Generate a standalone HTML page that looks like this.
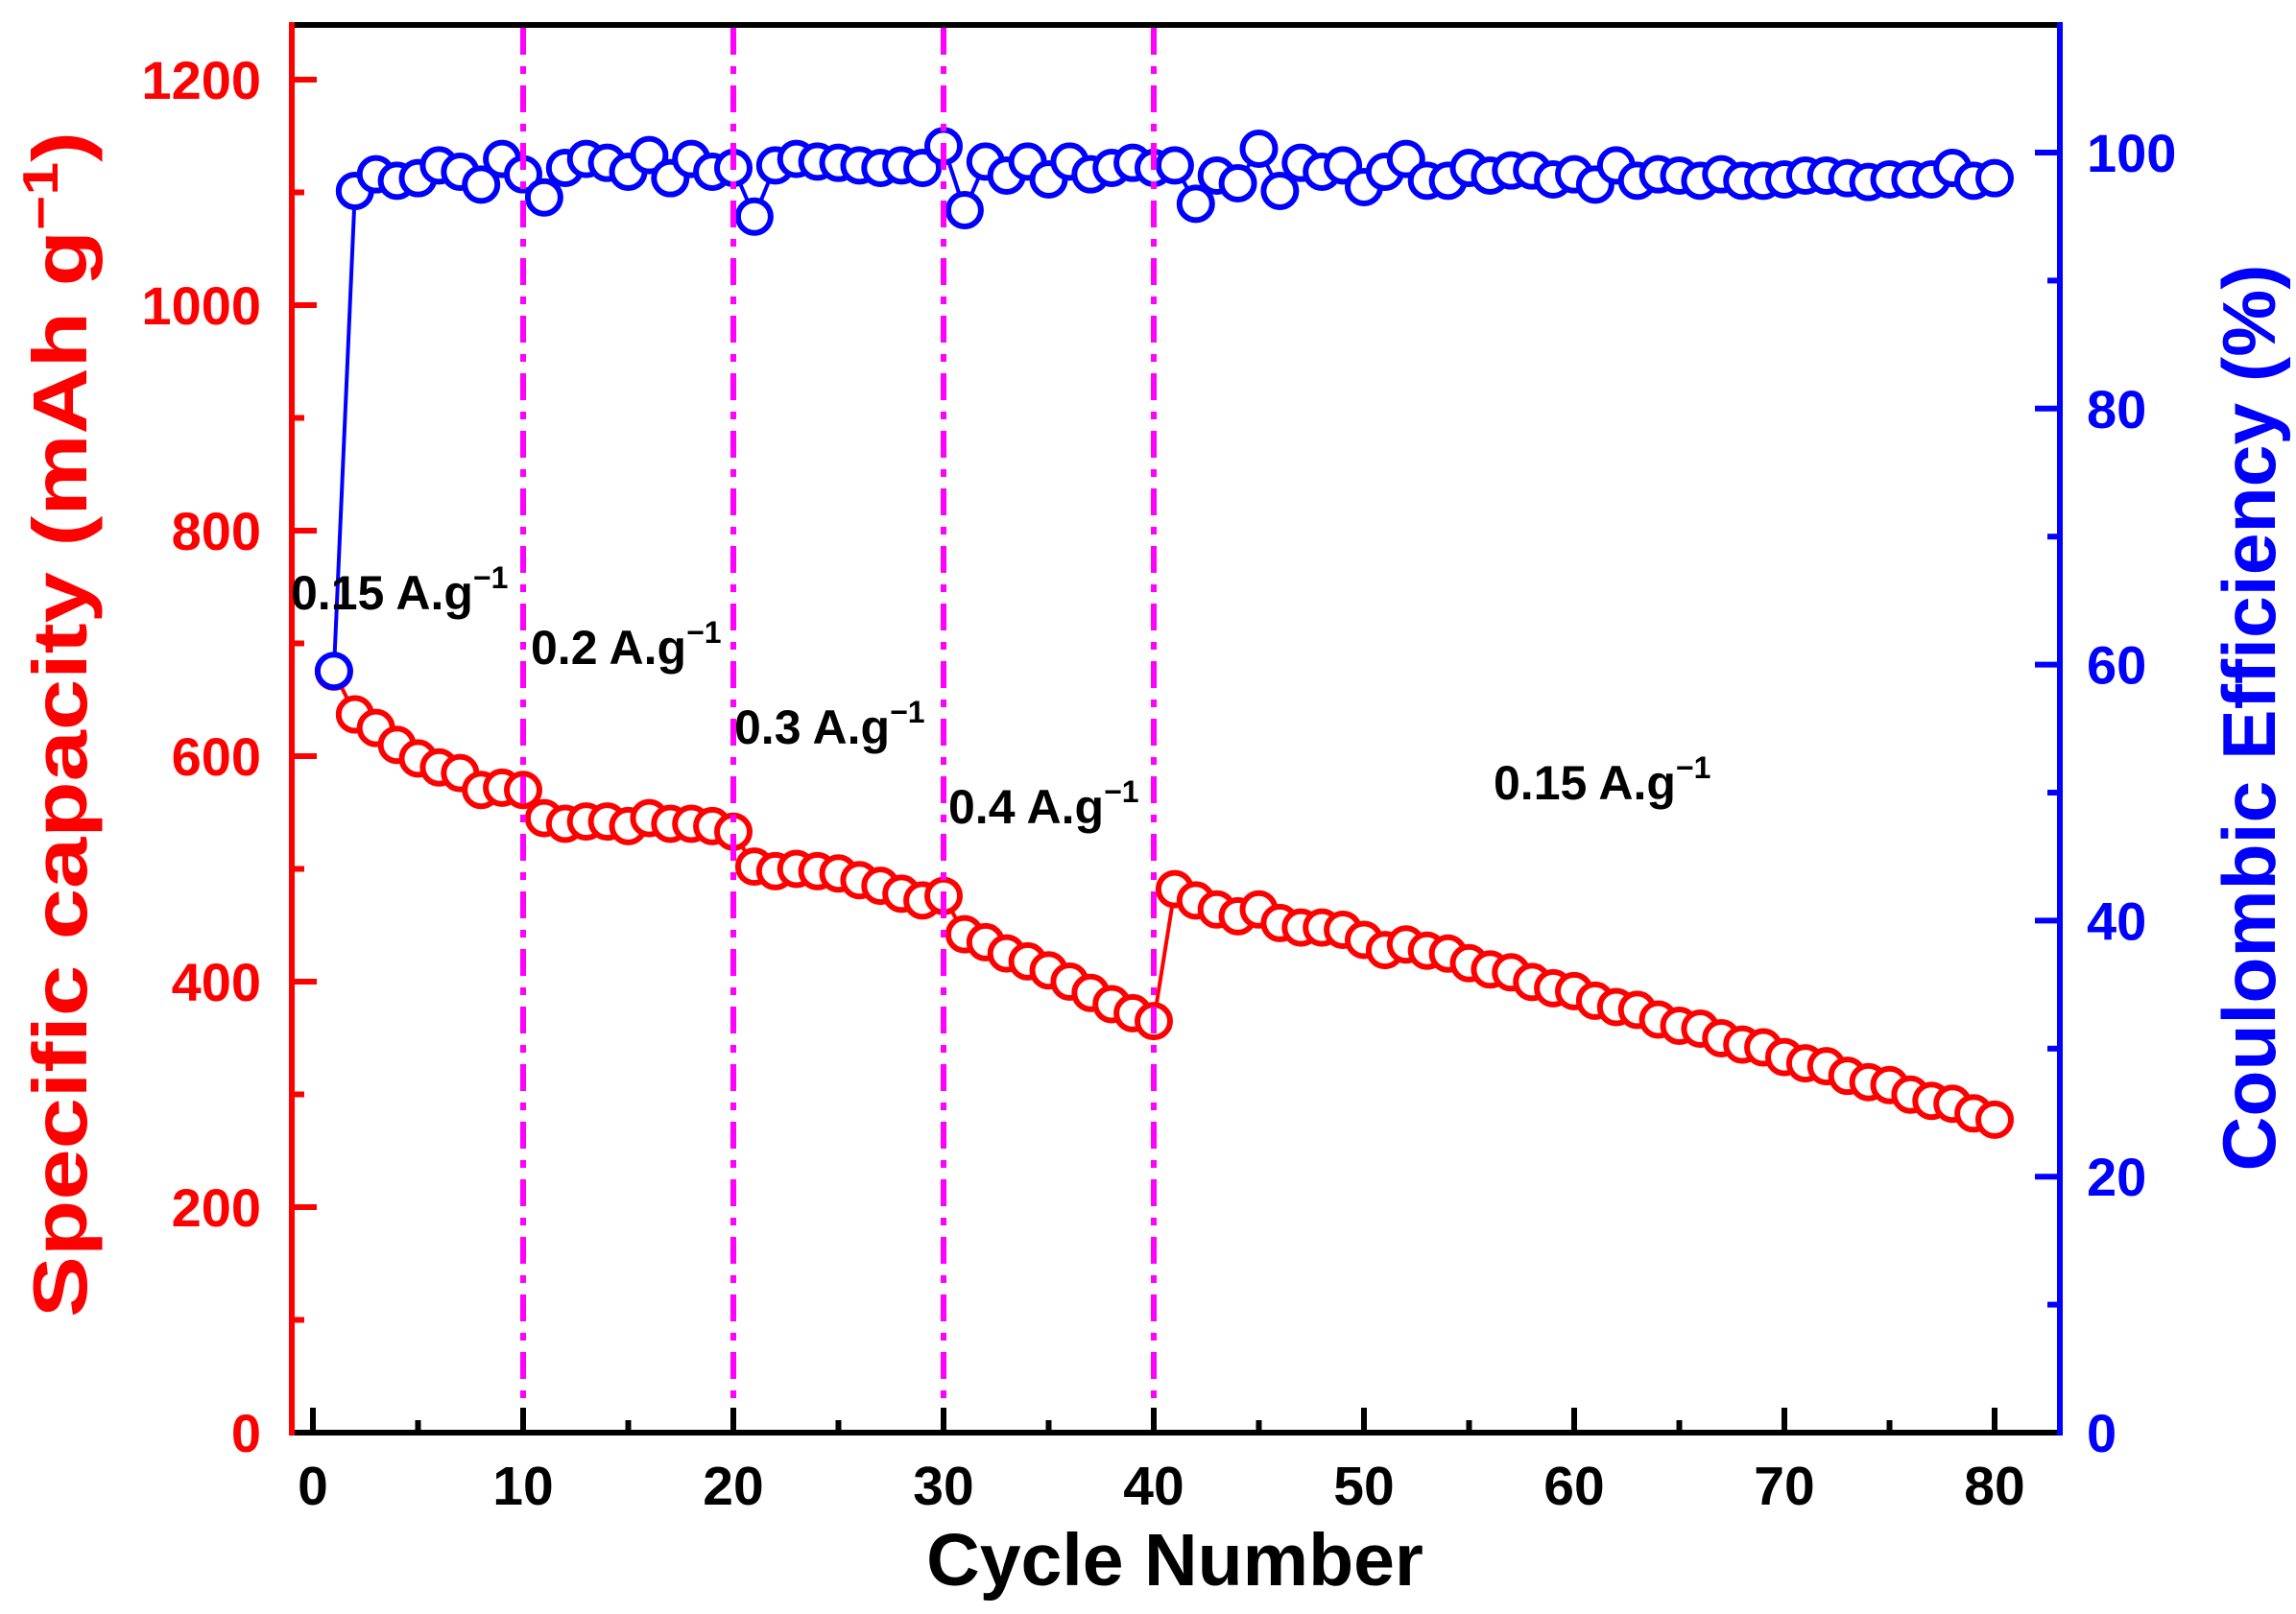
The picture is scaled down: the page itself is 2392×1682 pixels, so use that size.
<!DOCTYPE html>
<html><head><meta charset="utf-8"><style>
html,body{margin:0;padding:0;background:#fff;}
svg{display:block;}
text{font-family:"Liberation Sans",Arial,sans-serif;font-weight:bold;}
</style></head><body>
<svg id="s" xmlns="http://www.w3.org/2000/svg" width="2392" height="1682" viewBox="0 0 2392 1682">
<rect width="2392" height="1682" fill="#fff"/>
<g id="data"></g>
<g id="vl" stroke="#ff00ff" stroke-width="6" stroke-dasharray="28 12 8 12"></g>
<line x1="302" y1="26" x2="2146" y2="26" stroke="#000" stroke-width="6"/>
<line x1="302" y1="1493" x2="2146" y2="1493" stroke="#000" stroke-width="6"/>
<line x1="304" y1="23" x2="304" y2="1496" stroke="#f00" stroke-width="6"/>
<line x1="2146" y1="23" x2="2146" y2="1496" stroke="#00f" stroke-width="6"/>
<g id="ticks"></g>
<g fill="#000" font-size="57" text-anchor="middle" id="xl"></g>
<g fill="#f00" font-size="56" text-anchor="end" id="yl"></g>
<g fill="#00f" font-size="56" text-anchor="start" id="rl"></g>
<text x="1224" y="1652" font-size="77" text-anchor="middle" fill="#000">Cycle Number</text>
<text transform="translate(90,755) rotate(-90)" font-size="80" text-anchor="middle" fill="#f00" textLength="1236" lengthAdjust="spacingAndGlyphs">Specific capacity (mAh g<tspan font-size="52" dy="-30">−1</tspan><tspan dy="30">)</tspan></text>
<text transform="translate(2370,748) rotate(-90)" font-size="78" text-anchor="middle" fill="#00f" textLength="945" lengthAdjust="spacingAndGlyphs">Coulombic Efficiency (%)</text>
<g font-size="50" fill="#000">
<text x="303" y="635">0.15 A.g<tspan font-size="32" dy="-22">−1</tspan></text>
<text x="553" y="692">0.2 A.g<tspan font-size="32" dy="-22">−1</tspan></text>
<text x="765" y="775">0.3 A.g<tspan font-size="32" dy="-22">−1</tspan></text>
<text x="988" y="858">0.4 A.g<tspan font-size="32" dy="-22">−1</tspan></text>
<text x="1556" y="833">0.15 A.g<tspan font-size="32" dy="-22">−1</tspan></text>
</g>
</svg>
<script>
var NS="http://www.w3.org/2000/svg";
function el(p,t,a){var e=document.createElementNS(NS,t);for(var k in a)e.setAttribute(k,a[k]);p.appendChild(e);return e;}
function X(c){return 326+c*21.9;}
function YC(v){return 1493-v*1.175;}
function YE(v){return 1493-v*13.34;}
var cap=[675,637,625,610,598,590,585,570,572,570,545,540,542,542,538,545,540,540,538,533,502,498,500,498,496,490,485,478,472,476,442,435,425,418,410,400,390,380,372,365,482,472,464,458,464,452,448,448,446,437,428,433];
for(var i=53;i<=80;i++)cap.push(433-(i-52)*5.55+(i%3==0?3:0));
var ce=[59.5,97,98.3,97.8,98,99,98.5,97.5,99.5,98.3,96.5,98.8,99.5,99.2,98.5,99.8,98,99.5,98.5,98.8,95,99,99.5,99.3,99.2,99,98.8,99,98.8,100.5,95.5,99.3,98.2,99.3,97.9,99.3,98.3,98.8,99.2,98.8,99,96,98.2,97.6,100.3,97,99.2,98.5,99,97.3,98.5,99.5,97.8,97.8,98.8,98.2,98.6,98.6,97.9,98.3,97.5,99,97.8,98.3,98.2,97.8,98.3,97.8,97.8,97.9,98.2,98.2,98,97.7,97.9,97.9,97.9,98.8,97.8,98];
var d=document.getElementById('data');
function series(arr,f,col){var pts=arr.map(function(v,i){return X(i+1)+','+f(v);}).join(' ');
el(d,'polyline',{points:pts,fill:'none',stroke:col,'stroke-width':4});
arr.forEach(function(v,i){el(d,'circle',{cx:X(i+1),cy:f(v),r:17,fill:'#fff',stroke:col,'stroke-width':6});});}
series(cap,YC,'#f00');series(ce,YE,'#00f');
var vl=document.getElementById('vl');[10,20,30,40].forEach(function(c){el(vl,'line',{x1:X(c),y1:29,x2:X(c),y2:1490});});
var t=document.getElementById('ticks');
for(var c=0;c<=80;c+=5){el(t,'line',{x1:X(c),y1:1493,x2:X(c),y2:c%10?1480:1467,stroke:'#000','stroke-width':6});}
for(var v=100;v<=1200;v+=100){el(t,'line',{x1:304,y1:YC(v),x2:v%200?317:330,y2:YC(v),stroke:'#f00','stroke-width':6});}
for(var v=10;v<=100;v+=10){el(t,'line',{x1:2146,y1:YE(v),x2:v%20?2133:2120,y2:YE(v),stroke:'#00f','stroke-width':6});}
var xl=document.getElementById('xl');for(var c=0;c<=80;c+=10){el(xl,'text',{x:X(c),y:1568}).textContent=c;}
var yl=document.getElementById('yl');for(var v=0;v<=1200;v+=200){el(yl,'text',{x:272,y:YC(v)+20}).textContent=v;}
var rl=document.getElementById('rl');for(var v=0;v<=100;v+=20){el(rl,'text',{x:2174,y:YE(v)+20}).textContent=v;}
</script>
</body></html>
